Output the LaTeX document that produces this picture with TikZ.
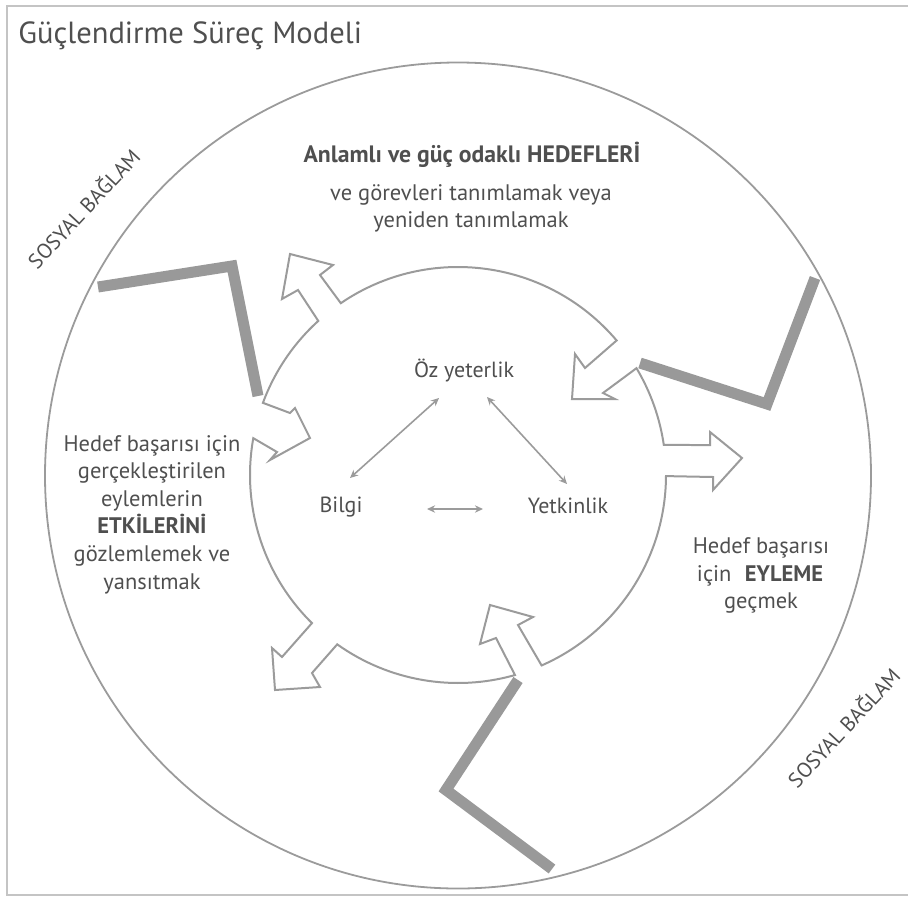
\documentclass[tikz,border=0pt]{standalone}
\usepackage{fontspec}
\setmainfont{PT Sans}
\usetikzlibrary{calc,arrows.meta}
\definecolor{linegray}{HTML}{9B9B9B}
\definecolor{ctxgray}{HTML}{999999}
\definecolor{txtgray}{HTML}{4F4F4F}
\definecolor{framegray}{HTML}{C4C4C4}
\begin{document}
\begin{tikzpicture}[x=0.02cm,y=-0.02cm,
  outline/.style={draw=linegray, line width=0.04cm, line join=miter},
  ctxline/.style={draw=ctxgray, line width=0.22cm, line join=miter},
  biarrow/.style={draw=linegray, line width=0.032cm,
    {Stealth[length=4.6pt,width=4.2pt]}-{Stealth[length=4.6pt,width=4.2pt]}},
  txt/.style={text=txtgray, inner sep=0pt, font=\fontsize{12.8}{15}\selectfont},
  small/.style={text=txtgray, inner sep=0pt, font=\fontsize{12.5}{15}\selectfont},
  ctx/.style={text=txtgray, inner sep=0pt, font=\fontsize{12}{14}\selectfont, rotate=47}]
\useasboundingbox (0,0) rectangle (908,906);
% frame
\draw[framegray, line width=0.05cm] (908,6) -- (7,6) -- (7,895) -- (908,895);
% outer circle
\coordinate (O) at (458,475.5);
\draw[outline, line width=0.036cm] (O) circle[radius=413];
% inner outline with arrows
\coordinate (C) at (458,475);
\draw[outline] ($(C)+(235.7:208)$) arc[start angle=235.7,end angle=319.7,radius=208]
 -- (585,368) -- (575,354) -- (572,399) -- (615,399) -- (603,393)
 -- ($(C)+(329.1:208)$) arc[start angle=329.1,end angle=351.7,radius=208]
 -- (710,445) -- (710,432) -- (742,458) -- (713,490) -- (713,477)
 -- ($(C)+(360.3:208)$) arc[start angle=360.3,end angle=426.3,radius=208]
 -- (518,625) -- (533,617) -- (490,605) -- (480,644) -- (496,638)
 -- ($(C)+(434.1:208)$) arc[start angle=434.1,end angle=485.5,radius=208]
 -- (312,673) -- (320,687) -- (275,690) -- (272,648) -- (282,657)
 -- ($(C)+(494.6:208)$) arc[start angle=494.6,end angle=550.2,radius=208]
 -- (277,452) -- (270,460) -- (310,438) -- (295,408) -- (290,413)
 -- ($(C)+(560.3:208)$) arc[start angle=560.3,end angle=587.8,radius=208]
 -- (298,290) -- (282,299) -- (290,254) -- (333,265) -- (320,275)
 -- cycle;
% social context lines
\draw[ctxline] (98,287) -- (232,266) -- (258,396);
\draw[ctxline] (640,363) -- (767,404) -- (815,278);
\draw[ctxline] (518,680) -- (446,790) -- (552,869);
% title
\node[txt, anchor=base west, font=\fontsize{17.4}{20}\selectfont] (title) at (18,43) {Güçlendirme Süreç Modeli};
% top text
\node[txt, anchor=base, font=\fontsize{13.5}{16}\selectfont\bfseries] (h1) at (472,162) {Anlamlı ve güç odaklı HEDEFLERİ};
\node[txt, anchor=base] (h2) at (471,200) {ve görevleri tanımlamak veya};
\node[txt, anchor=base] (h3) at (471,227) {yeniden tanımlamak};
% left text
\node[txt, anchor=base] (l1) at (152,451) {Hedef başarısı için};
\node[txt, anchor=base] (l2) at (152,478) {gerçekleştirilen};
\node[txt, anchor=base] (l3) at (152,506) {eylemlerin};
\node[txt, anchor=base] (l4) at (152,533) {\bfseries ETKİLERİNİ};
\node[txt, anchor=base] (l5) at (152,561) {gözlemlemek ve};
\node[txt, anchor=base] (l6) at (152,589) {yansıtmak};
% right text
\node[txt, anchor=base] (r1) at (761,553) {Hedef başarısı};
\node[txt, anchor=base] (r2) at (760,581) {için\hspace{0.6em}\textbf{EYLEME}};
\node[txt, anchor=base] (r3) at (761,608) {geçmek};
% centre
\node[small, anchor=base] (oz) at (464,377) {Öz yeterlik};
\node[small, anchor=base] (bilgi) at (341,512) {Bilgi};
\node[small, anchor=base] (yet) at (568,513) {Yetkinlik};
\coordinate (a1s) at (350,478);
\coordinate (a1e) at (439,398);
\coordinate (a2s) at (487,397);
\coordinate (a2e) at (567,484);
\coordinate (a3s) at (427,509);
\coordinate (a3e) at (483,509);
\draw[biarrow] (a1s) -- (a1e);
\draw[biarrow] (a2s) -- (a2e);
\draw[biarrow] (a3s) -- (a3e);
% social context labels
\node[ctx] (sb1) at (83,208) {SOSYAL BAĞLAM};
\node[ctx] (sb2) at (843,727) {SOSYAL BAĞLAM};
\end{tikzpicture}
\end{document}
